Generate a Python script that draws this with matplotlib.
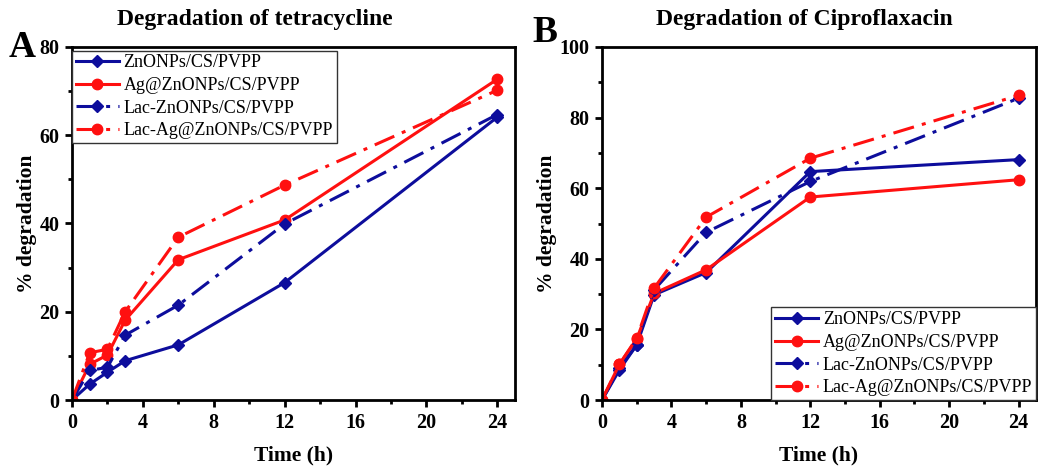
import numpy as np
import matplotlib.pyplot as plt
from matplotlib.ticker import MultipleLocator

plt.rcParams['font.family'] = ['Liberation Serif', 'DejaVu Serif']
plt.rcParams['font.weight'] = 'bold'

""" DONNEES """
temps = [0, 1, 2, 3, 6, 12, 24]
noms = ["ZnONPs/CS/PVPP", "Ag@ZnONPs/CS/PVPP", "Lac-ZnONPs/CS/PVPP", "Lac-Ag@ZnONPs/CS/PVPP"]

# tetracycline
tc_zn = [0, 3.6, 6.3, 8.9, 12.5, 26.6, 64.1]
tc_ag = [0, 8.1, 10.2, 18.1, 31.8, 40.8, 72.7]
tc_lac_zn = [0, 6.7, 7.4, 14.7, 21.5, 39.9, 64.7]
tc_lac_ag = [0, 10.7, 11.5, 20.0, 36.9, 48.7, 70.2]

# ciprofloxacin
cip_zn = [0, 8.5, 15.6, 29.8, 36.1, 64.7, 68.1]
cip_ag = [0, 10.1, 17.3, 30.2, 36.9, 57.5, 62.4]
cip_lac_zn = [0, 9.0, 15.6, 31.2, 47.5, 61.9, 85.5]
cip_lac_ag = [0, 10.1, 17.5, 31.7, 51.8, 68.5, 86.3]

bleu = '#0D0D9C'
rouge = '#FF1010'
tiret_point = (7, 2.7, 1.3, 2.7)


def tracer(ax, series, ymax, pas_y, loc_legende, ancre):
    styles = [
        dict(color=bleu, marker='D', markersize=6.5),
        dict(color=rouge, marker='o', markersize=7.5),
        dict(color=bleu, marker='D', markersize=6.5, dashes=tiret_point),
        dict(color=rouge, marker='o', markersize=7.5, dashes=tiret_point),
    ]
    for y, nom, st in zip(series, noms, styles):
        ax.plot(temps, y, linewidth=2.2, label=nom, **st)
    ax.set_xlim(0, 25)
    ax.set_ylim(0, ymax)
    ax.xaxis.set_major_locator(MultipleLocator(4))
    ax.xaxis.set_minor_locator(MultipleLocator(2))
    ax.yaxis.set_major_locator(MultipleLocator(pas_y))
    ax.yaxis.set_minor_locator(MultipleLocator(pas_y / 2))
    ax.tick_params(which='major', direction='out', length=5, width=2, labelsize=14.5, pad=4)
    ax.tick_params(which='minor', direction='out', length=3, width=2)
    for s in ax.spines.values():
        s.set_linewidth(2)
    ax.set_xlabel("Time (h)", fontsize=15.5, fontweight='bold', labelpad=9)
    ax.set_ylabel("% degradation", fontsize=15.5, fontweight='bold', labelpad=2)
    leg = ax.legend(loc=loc_legende, bbox_to_anchor=ancre, handlelength=2.4, borderaxespad=0,
                    fancybox=False, edgecolor='#333333', framealpha=1,
                    labelspacing=0.32, borderpad=0.2, handletextpad=0.25,
                    prop={'family': ['Liberation Serif'], 'weight': 'normal', 'size': 13})
    leg.get_frame().set_linewidth(1)


fig = plt.figure(figsize=(10.38, 4.68), dpi=100)
ax1 = fig.add_axes([72 / 1038, 68 / 468, 443 / 1038, 353 / 468])
ax2 = fig.add_axes([602 / 1038, 68 / 468, 434 / 1038, 353 / 468])

tracer(ax1, [tc_zn, tc_ag, tc_lac_zn, tc_lac_ag], 80, 20, 'upper left', (0, 0.99))
tracer(ax2, [cip_zn, cip_ag, cip_lac_zn, cip_lac_ag], 100, 20, 'lower right', (1, 0))

fig.text(255 / 1038, 1 - 20 / 468, "Degradation of tetracycline", fontsize=17,
         fontweight='bold', ha='center', va='center')
fig.text(804 / 1038, 1 - 20 / 468, "Degradation of Ciproflaxacin", fontsize=17,
         fontweight='bold', ha='center', va='center')

fig.text(9 / 1038, 1 - 57 / 468, "A", fontsize=27, fontweight='bold')
fig.text(532 / 1038, 1 - 42 / 468, "B", fontsize=27, fontweight='bold')

fig.savefig("out.png", dpi=100)
